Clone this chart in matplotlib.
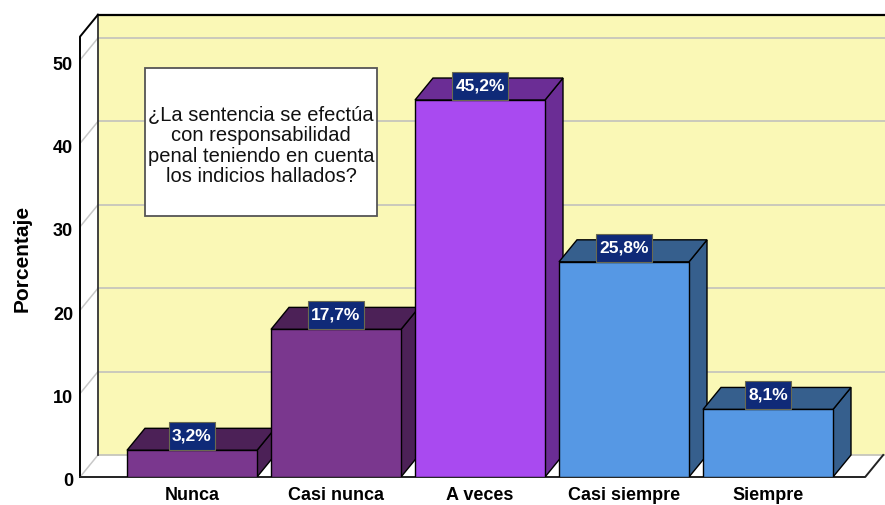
import matplotlib
matplotlib.use("Agg")
import matplotlib.pyplot as plt
from matplotlib.patches import Polygon, Rectangle
import matplotlib.transforms as mtransforms

plt.rcParams['font.family'] = ['Liberation Sans', 'DejaVu Sans']

categories = ["Nunca", "Casi nunca", "A veces", "Casi siempre", "Siempre"]
values = [3.2, 17.7, 45.2, 25.8, 8.1]
yticks = [0, 10, 20, 30, 40, 50]
ylabel = "Porcentaje"
note = "¿La sentencia se efectúa\ncon responsabilidad\npenal teniendo en cuenta\nlos indicios hallados?"

front_colors = ["#7a378e", "#7a378e", "#a94af0", "#5698e4", "#5698e4"]
dark_colors = ["#4c2157", "#4c2157", "#6b2d95", "#365f8d", "#365f8d"]

W, H = 885, 505
fig = plt.figure(figsize=(W / 100, H / 100), dpi=100)
fig.patch.set_facecolor("white")

PX_X = 144.0          # px per category unit
PX_Y = 8.34           # px per percent
X0PX = 192.0          # pixel of category 0
Y0PX = 477.0          # pixel (from top) of value 0
YTOP = 56.0
left_px, right_px = 80.0, 885.0
ax = fig.add_axes([left_px / W, (H - Y0PX) / H, (right_px - left_px) / W, YTOP * PX_Y / H])
xl = (left_px - X0PX) / PX_X
xr = (right_px - X0PX) / PX_X
ax.set_xlim(xl, xr)
ax.set_ylim(0, YTOP)
for s in ax.spines.values():
    s.set_visible(False)

dx = 18.0 / PX_X
dy = 22.0 / PX_Y
ymax = 52.8
x_front_l = xl
x_back_l = xl + dx
x_back_r = 4.8
x_front_r = x_back_r - dx

# back wall
ax.add_patch(Polygon([(x_back_l, dy), (x_back_r + 0.2, dy), (x_back_r + 0.2, ymax + dy), (x_back_l, ymax + dy)],
                     closed=True, facecolor="#faf8b6", edgecolor="none", zorder=0))
# left wall
ax.add_patch(Polygon([(x_front_l, 0), (x_back_l, dy), (x_back_l, ymax + dy), (x_front_l, ymax)],
                     closed=True, facecolor="white", edgecolor="none", zorder=0))
# floor
ax.add_patch(Polygon([(x_front_l, 0), (x_front_r, 0), (x_back_r, dy), (x_back_l, dy)],
                     closed=True, facecolor="white", edgecolor="none", zorder=0))

# grid
for v in yticks:
    ax.plot([x_back_l, x_back_r + 0.2], [v + dy, v + dy], color="#c6c6bc", lw=1.3, zorder=1, clip_on=False)
    ax.plot([x_front_l, x_back_l], [v, v + dy], color="#c8c8c8", lw=1.1, zorder=1, clip_on=False)

# frame lines
ax.plot([x_back_l, x_back_l], [dy, ymax + dy], color="#333333", lw=1.3, zorder=1, clip_on=False)
ax.plot([x_back_l, x_back_r + 0.2], [ymax + dy, ymax + dy], color="black", lw=1.6, zorder=1, clip_on=False)
ax.plot([x_front_l, x_front_l, x_back_l], [0, ymax, ymax + dy], color="black", lw=1.4, zorder=5, clip_on=False)
ax.plot([x_front_l, x_front_r, x_back_r], [0, 0, dy], color="#222222", lw=1.4, zorder=5, clip_on=False)

# annotation box
bx0 = (145 - X0PX) / PX_X
bx1 = (377 - X0PX) / PX_X
by0 = (Y0PX - 216) / PX_Y
by1 = (Y0PX - 68) / PX_Y
ax.add_patch(Rectangle((bx0, by0), bx1 - bx0, by1 - by0, facecolor="white", edgecolor="#555555", lw=1.3, zorder=2))
ax.text((bx0 + bx1) / 2, (by0 + by1) / 2 - 0.45, note, ha="center", va="center", fontsize=14.5,
        linespacing=1.1, color="#111111", zorder=3)

# bars
hw = 65.0 / PX_X
renderer = fig.canvas.get_renderer()
for i, (v, fc, dc) in enumerate(zip(values, front_colors, dark_colors)):
    z = 10 + i * 3
    ax.add_patch(Polygon([(i + hw, 0), (i + hw + dx, dy), (i + hw + dx, v + dy), (i + hw, v)],
                         closed=True, facecolor=dc, edgecolor="black", lw=1.0, zorder=z))
    ax.add_patch(Polygon([(i - hw, v), (i + hw, v), (i + hw + dx, v + dy), (i - hw + dx, v + dy)],
                         closed=True, facecolor=dc, edgecolor="black", lw=1.0, zorder=z))
    ax.add_patch(Rectangle((i - hw, 0), 2 * hw, v, facecolor=fc, edgecolor="black", lw=1.0, zorder=z + 1))
    box_h = 28.0 / PX_Y
    lab = f"{v:.1f}".replace(".", ",") + "%"
    t = ax.text(i, v + box_h / 2, lab, ha="center", va="center", fontsize=12.5, fontweight="bold",
                color="white", zorder=z + 3)
    tw = t.get_window_extent(renderer).width
    bw = (tw + 7) / PX_X
    ax.add_patch(Rectangle((i - bw / 2, v), bw, box_h, facecolor="#0f2a78", edgecolor="#6a6a50",
                           lw=0.8, zorder=z + 2))

ax.set_xticks(range(len(categories)))
ax.set_xticklabels(categories, fontsize=13, fontweight="bold")
ax.set_yticks(yticks)
ax.set_yticklabels([str(v) for v in yticks], fontsize=13, fontweight="bold")
ax.tick_params(axis="both", length=0)
ax.tick_params(axis="y", pad=5)
ax.tick_params(axis="x", pad=7)
off = mtransforms.ScaledTranslation(0, -3 / 100, fig.dpi_scale_trans)
for lbl in ax.get_yticklabels():
    lbl.set_transform(lbl.get_transform() + off)

fig.text(22 / W, 1 - 258 / H, ylabel, rotation=90, ha="center", va="center", fontsize=15, fontweight="bold")

fig.savefig("out.png", dpi=100, facecolor="white")
